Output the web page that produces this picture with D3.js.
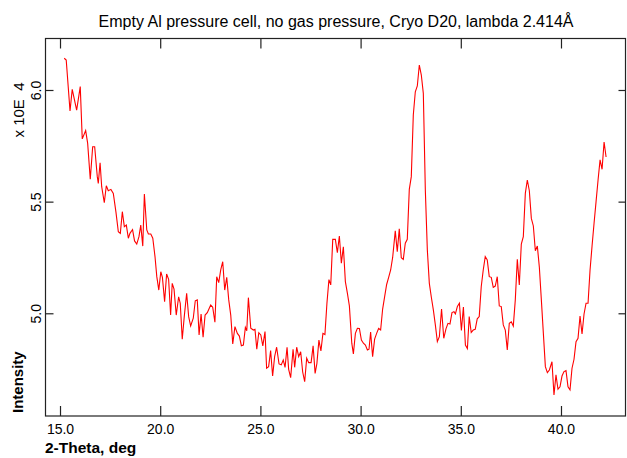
<!DOCTYPE html>
<html><head><meta charset="utf-8">
<script src="https://cdn.jsdelivr.net/npm/d3@7/dist/d3.min.js"></script>
<style>body{margin:0;background:#fff}svg{display:block}text{font-family:"Liberation Sans",Arial,Helvetica,sans-serif;fill:#000}</style>
</head><body>
<svg id="c" width="627" height="458"></svg>
<script>
const title = "Empty Al pressure cell, no gas pressure, Cryo D20, lambda 2.414Å";
const xTicks = [15, 20, 25, 30, 35, 40];
const yTicks = [5.0, 5.5, 6.0];
const twoTheta = [
15.21,15.31,15.50,15.61,15.83,16.01,16.11,16.28,16.38,16.51,
16.63,16.73,16.86,16.91,17.00,17.08,17.21,17.31,17.41,17.54,
17.66,17.79,17.91,18.01,18.11,18.21,18.31,18.41,18.49,18.62,
18.72,18.83,18.94,19.03,19.13,19.21,19.33,19.41,19.53,19.63,
19.74,19.83,19.93,20.03,20.11,20.22,20.32,20.42,20.52,20.60,
20.69,20.80,20.92,21.00,21.10,21.20,21.32,21.42,21.52,21.65,
21.75,21.85,21.94,22.04,22.14,22.24,22.35,22.52,22.62,22.73,
22.82,22.92,23.02,23.12,23.22,23.32,23.42,23.52,23.62,23.73,
23.85,23.95,24.05,24.15,24.25,24.32,24.40,24.52,24.65,24.73,
24.82,24.92,25.02,25.12,25.23,25.31,25.41,25.51,25.61,25.71,
25.81,25.93,26.04,26.14,26.23,26.33,26.41,26.51,26.63,26.71,
26.81,26.91,27.01,27.11,27.21,27.31,27.41,27.53,27.63,27.73,
27.82,27.92,28.02,28.12,28.22,28.32,28.42,28.51,28.61,28.74,
28.84,28.94,29.04,29.14,29.24,29.34,29.44,29.56,29.64,29.74,
29.84,29.94,30.04,30.14,30.24,30.34,30.42,30.50,30.60,30.70,
30.80,30.90,31.00,31.10,31.20,31.30,31.40,31.50,31.60,31.73,
31.83,31.93,32.03,32.13,32.23,32.33,32.43,32.53,32.63,32.73,
32.83,32.93,33.03,33.13,33.23,33.33,33.43,33.53,33.63,33.73,
33.83,33.93,34.04,34.15,34.26,34.36,34.46,34.56,34.66,34.73,
34.83,34.93,35.03,35.13,35.23,35.33,35.42,35.52,35.62,35.72,
35.82,35.92,36.02,36.12,36.22,36.32,36.42,36.52,36.62,36.72,
36.82,36.92,37.02,37.12,37.22,37.32,37.42,37.52,37.62,37.72,
37.82,37.92,38.02,38.12,38.22,38.32,38.42,38.52,38.62,38.72,
38.82,38.92,39.02,39.12,39.22,39.32,39.42,39.55,39.65,39.75,
39.85,39.95,40.05,40.15,40.25,40.35,40.45,40.55,40.65,40.75,
40.85,40.95,41.05,41.15,41.25,41.35,41.45,41.55,41.65,41.75,
41.85,41.95,42.05,42.15,42.25
];
const intensity = [
6.142,6.134,5.906,6.003,5.910,6.015,5.781,5.818,5.761,5.600,
5.746,5.746,5.612,5.582,5.674,5.567,5.495,5.571,5.549,5.555,
5.537,5.454,5.365,5.358,5.455,5.388,5.395,5.336,5.358,5.375,
5.324,5.310,5.343,5.395,5.301,5.534,5.373,5.355,5.355,5.336,
5.254,5.164,5.104,5.186,5.161,5.052,5.176,5.152,4.992,5.134,
5.108,4.992,5.074,5.045,4.884,4.985,5.090,4.985,4.943,4.978,
5.056,5.060,4.903,4.997,4.893,4.992,5.003,5.037,5.027,4.960,
5.164,5.137,5.194,5.231,5.104,5.161,5.060,4.992,4.863,4.940,
4.910,4.898,4.855,4.858,4.937,4.922,5.070,4.933,4.925,4.928,
4.839,4.913,4.903,4.854,4.918,4.754,4.761,4.833,4.719,4.806,
4.848,4.773,4.769,4.791,4.758,4.848,4.749,4.712,4.839,4.758,
4.848,4.806,4.828,4.737,4.694,4.799,4.779,4.779,4.854,4.731,
4.776,4.880,4.831,4.910,4.905,5.045,5.151,5.127,5.331,5.331,
5.271,5.346,5.224,5.298,5.142,5.090,5.033,4.866,4.818,4.910,
4.933,4.932,4.880,4.866,4.858,4.836,4.839,4.916,4.806,4.884,
4.910,4.932,4.925,5.019,5.075,5.129,5.161,5.194,5.250,5.369,
5.276,5.378,5.249,5.241,5.314,5.331,5.555,5.612,5.888,5.992,
6.018,6.112,6.067,5.985,5.552,5.284,5.134,5.072,5.015,4.948,
4.873,4.895,5.019,4.888,4.930,4.955,4.952,5.003,5.007,4.997,
5.031,5.045,4.923,5.028,4.858,4.842,4.985,4.914,4.925,4.928,
4.975,4.985,5.119,5.194,5.254,5.239,5.164,5.161,5.116,5.122,
5.164,5.033,5.030,4.948,4.925,4.836,4.955,4.962,4.943,5.060,
5.242,5.127,5.310,5.343,5.537,5.597,5.549,5.425,5.391,5.280,
5.301,5.206,5.060,4.910,4.761,4.734,4.746,4.783,4.634,4.724,
4.660,4.671,4.719,4.739,4.743,4.671,4.657,4.754,4.794,4.873,
4.888,4.988,4.907,4.997,5.045,5.045,5.194,5.301,5.403,5.500,
5.597,5.687,5.645,5.767,5.700
];

const L = 46, R = 626, T = 38.5, B = 416;
const x = d3.scaleLinear().domain([14.301, 43.244]).range([L, R]);
const y = d3.scaleLinear().domain([4.540, 6.2306]).range([B, T]);
const svg = d3.select("#c");

svg.append("text").attr("x", 336).attr("y", 27).attr("text-anchor", "middle")
  .style("font-size", "16px").text(title);

// frame
svg.append("rect").attr("x", L - 0.5).attr("y", T).attr("width", R - L).attr("height", B - T)
  .attr("fill", "none").attr("stroke", "#222").attr("stroke-width", 1.2);

const fmt = d3.format(".1f");
// bottom axis
const xb = svg.append("g").attr("transform", `translate(0,${B})`)
  .call(d3.axisBottom(x).tickValues(xTicks).tickSizeInner(-10).tickSizeOuter(0).tickPadding(20).tickFormat(fmt));
xb.select(".domain").remove();
xb.selectAll("line").attr("stroke", "#222").attr("stroke-width", 1.2);
xb.selectAll("text").style("font-size", "14px").attr("fill", "#000").attr("y", 18).attr("dy", 0);
// top axis
const xt = svg.append("g").attr("transform", `translate(0,${T})`)
  .call(d3.axisTop(x).tickValues(xTicks).tickSizeInner(-10).tickSizeOuter(0).tickFormat(""));
xt.select(".domain").remove();
xt.selectAll("line").attr("stroke", "#222").attr("stroke-width", 1.2);
// left axis
const yl = svg.append("g").attr("transform", `translate(${L - 0.5},0)`)
  .call(d3.axisLeft(y).tickValues(yTicks).tickSizeInner(-8).tickSizeOuter(0).tickFormat(fmt));
yl.select(".domain").remove();
yl.selectAll("line").attr("stroke", "#222").attr("stroke-width", 1.2);
yl.selectAll("text").style("font-size", "14px").attr("fill", "#000")
  .attr("x", null).attr("dy", null).attr("text-anchor", "middle")
  .attr("transform", "translate(-4.5,0) rotate(-90)");
// right axis
const yr = svg.append("g").attr("transform", `translate(${R - 0.5},0)`)
  .call(d3.axisRight(y).tickValues(yTicks).tickSizeInner(-7).tickSizeOuter(0).tickFormat(""));
yr.select(".domain").remove();
yr.selectAll("line").attr("stroke", "#222").attr("stroke-width", 1.2);

// axis titles
svg.append("text").attr("x", 45).attr("y", 453).style("font-size", "15.5px").style("font-weight", "bold").text("2-Theta, deg");
svg.append("text").attr("transform", "translate(23,413) rotate(-90)").style("font-size", "15px").style("font-weight", "bold").text("Intensity");
svg.append("text").attr("transform", "translate(24,110) rotate(-90)").attr("text-anchor", "middle").style("font-size", "15px").attr("xml:space", "preserve").style("white-space", "pre").text("x 10E  4");

// data line
const pts = twoTheta.map((t, i) => [t, intensity[i]]);
svg.append("path").datum(pts)
  .attr("fill", "none").attr("stroke", "#ff0000").attr("stroke-width", 1.1).attr("stroke-linejoin", "miter")
  .attr("d", d3.line().x(d => x(d[0])).y(d => y(d[1])));
</script>
</body></html>
